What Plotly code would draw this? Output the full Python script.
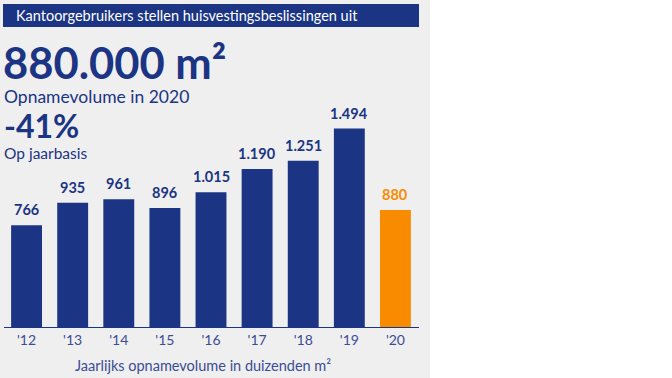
import plotly.graph_objects as go

years = ["'12", "'13", "'14", "'15", "'16", "'17", "'18", "'19", "'20"]
values = [766, 935, 961, 896, 1015, 1190, 1251, 1494, 880]
value_labels = ["766", "935", "961", "896", "1.015", "1.190", "1.251", "1.494", "880"]

NAVY = "#1b3483"
ORANGE = "#f98b00"
TICK = "#3b4c96"
BG = "#efefef"
W, H = 672, 378
FONT = "Lato"

colors = [NAVY] * (len(values) - 1) + [ORANGE]

fig = go.Figure()
fig.add_trace(go.Bar(
    x=years, y=values, marker=dict(color=colors, line=dict(width=0)),
    width=0.67, hoverinfo="skip",
))

for yr, v, lab, c in zip(years, values, value_labels, colors):
    fig.add_annotation(x=yr, y=v, text="<b>%s</b>" % lab, showarrow=False,
                       yanchor="bottom", yshift=5,
                       font=dict(family=FONT, size=14.5, color=c))

px_x = lambda p: p / W
px_y = lambda p: 1 - p / H

fig.update_layout(
    width=W, height=H,
    margin=dict(l=0, r=0, t=0, b=0),
    paper_bgcolor="white", plot_bgcolor=BG,
    showlegend=False,
    xaxis=dict(domain=[px_x(3.5), px_x(418.5)], range=[-0.5, 8.5],
               showgrid=False, zeroline=False, showline=True,
               linecolor=NAVY, linewidth=1.2, ticks="",
               tickfont=dict(family=FONT, size=14, color=TICK)),
    yaxis=dict(domain=[px_y(327), px_y(100)], range=[0, 1709],
               visible=False, showgrid=False),
    shapes=[
        dict(type="rect", xref="paper", yref="paper", x0=0, x1=px_x(430),
             y0=0, y1=1, fillcolor=BG, line=dict(width=0), layer="below"),
        dict(type="rect", xref="paper", yref="paper", x0=px_x(3), x1=px_x(419),
             y0=px_y(27), y1=px_y(4), fillcolor=NAVY, line=dict(width=0), layer="below"),
    ],
    annotations=list(fig.layout.annotations) + [
        dict(xref="paper", yref="paper", x=px_x(14), y=px_y(15.5), xanchor="left",
             yanchor="middle", showarrow=False,
             text="Kantoorgebruikers stellen huisvestingsbeslissingen uit",
             font=dict(family=FONT, size=14.5, color="white")),
        dict(xref="paper", yref="paper", x=px_x(1), y=px_y(62), xanchor="left",
             yanchor="middle", showarrow=False, text="<b>880.000 m²</b>",
             font=dict(family=FONT, size=43.5, color=NAVY)),
        dict(xref="paper", yref="paper", x=px_x(2), y=px_y(96), xanchor="left",
             yanchor="middle", showarrow=False, text="Opnamevolume in 2020",
             font=dict(family=FONT, size=17.5, color=NAVY)),
        dict(xref="paper", yref="paper", x=px_x(2), y=px_y(125.5), xanchor="left",
             yanchor="middle", showarrow=False, text="<b>-41%</b>",
             font=dict(family=FONT, size=32, color=NAVY)),
        dict(xref="paper", yref="paper", x=px_x(2), y=px_y(153), xanchor="left",
             yanchor="middle", showarrow=False, text="Op jaarbasis",
             font=dict(family=FONT, size=15.5, color=NAVY)),
        dict(xref="paper", yref="paper", x=px_x(203), y=px_y(365), xanchor="center",
             yanchor="middle", showarrow=False,
             text="Jaarlijks opnamevolume in duizenden m²",
             font=dict(family=FONT, size=14.5, color=TICK)),
    ],
)

fig.write_html("out.html", config={"displayModeBar": False},
               post_script="document.body.style.margin='0';document.body.style.overflow='hidden';")
